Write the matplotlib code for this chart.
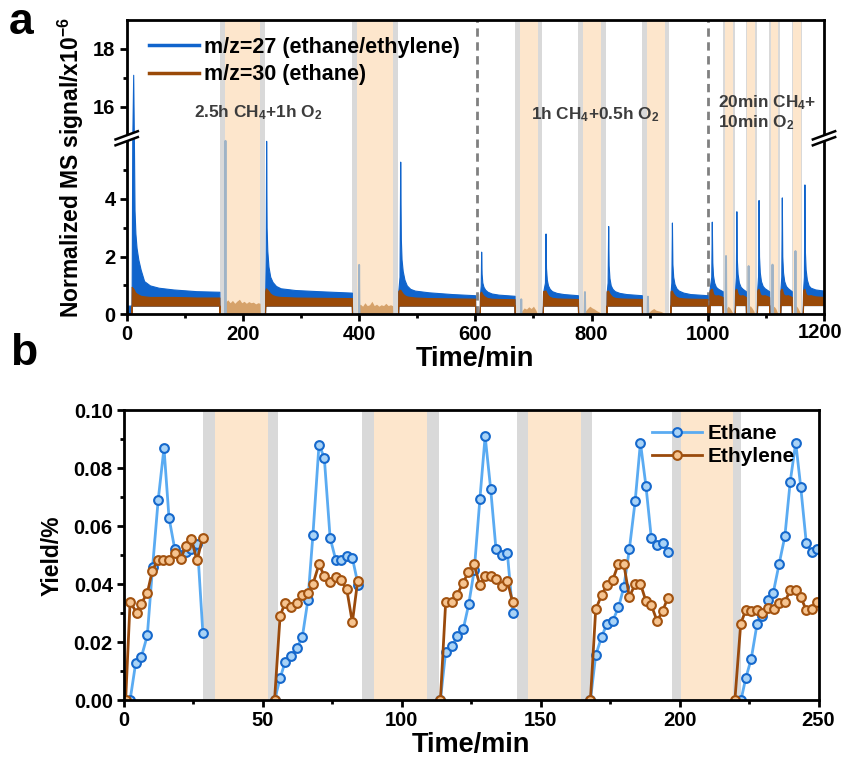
import numpy as np
import matplotlib
matplotlib.use("Agg")
import matplotlib.pyplot as plt
import matplotlib.transforms as mtrans
from matplotlib.lines import Line2D

plt.rcParams['font.family'] = ['Liberation Sans', 'DejaVu Sans']
plt.rcParams['font.weight'] = 'bold'
plt.rcParams['mathtext.fontset'] = 'custom'
plt.rcParams['mathtext.rm'] = 'Liberation Sans:bold'
plt.rcParams['mathtext.it'] = 'Liberation Sans:bold'
plt.rcParams['mathtext.bf'] = 'Liberation Sans:bold'

# ---------------- Panel a data ----------------
# CH4 segments: time points, m/z=27 upper envelope, m/z=30 upper envelope, common lower envelope
seg_t = [
    [0, 8.3, 8.6, 9.6, 11.2, 12.4, 13.5, 15, 17, 20, 24, 30, 40, 55, 80, 120, 159.5, 159.8],
    [238, 238.4, 239.2, 240, 240.8, 242, 244, 247, 251, 257, 265, 290, 330, 387.5, 387.8],
    [467, 467.4, 469.5, 470.7, 471.8, 473, 475, 478, 482, 488, 496, 520, 560, 599.5, 599.8],
    [607.5, 608, 609.3, 610, 610.8, 612, 614, 617, 621, 628, 640, 667.5, 667.8],
    [716, 716.5, 719.8, 720.8, 721.6, 723, 725, 728, 732, 740, 752, 776.5, 776.8],
    [825.5, 826, 827.6, 828.6, 829.4, 830.8, 833, 836, 840, 848, 860, 886.5, 886.8],
    [935.5, 936, 937.3, 938.3, 939.1, 940.5, 942.7, 946, 950, 958, 970, 999.5, 999.8],
    [1002.5, 1003, 1006, 1006.9, 1007.8, 1009, 1011, 1014, 1018, 1025.5, 1025.8],
    [1046.5, 1047, 1048.3, 1049.2, 1050, 1051.3, 1053.5, 1056.5, 1060, 1065.5, 1065.8],
    [1084.5, 1085, 1086.5, 1087.4, 1088.2, 1089.5, 1091.5, 1094.5, 1098, 1105.5, 1105.8],
    [1124.5, 1125, 1126.5, 1127.4, 1128.2, 1129.5, 1131.5, 1134.5, 1138, 1144.5, 1144.8],
    [1163.5, 1164, 1165.4, 1166.3, 1167.1, 1168.4, 1170.5, 1173.5, 1177, 1185, 1199.5, 1200],
]
seg_27 = [
    [0.3, 0.3, 0.9, 6.5, 17.1, 7.0, 3.6, 2.8, 2.3, 1.9, 1.55, 1.15, 1.0, 0.92, 0.86, 0.8, 0.78, 0],
    [0, 0.8, 2.0, 6.5, 3.0, 2.2, 1.65, 1.3, 1.12, 0.98, 0.9, 0.84, 0.8, 0.75, 0],
    [0, 0.8, 1.3, 5.29, 2.6, 1.9, 1.5, 1.2, 1.0, 0.88, 0.82, 0.76, 0.7, 0.66, 0],
    [0, 0.7, 1.0, 2.17, 1.4, 1.1, 0.95, 0.85, 0.78, 0.72, 0.68, 0.64, 0],
    [0, 0.75, 1.1, 2.8, 1.6, 1.2, 1.0, 0.88, 0.8, 0.74, 0.7, 0.66, 0],
    [0, 0.75, 1.1, 3.06, 1.7, 1.25, 1.0, 0.88, 0.8, 0.74, 0.7, 0.66, 0],
    [0, 0.75, 1.1, 3.18, 1.75, 1.3, 1.05, 0.9, 0.82, 0.75, 0.7, 0.66, 0],
    [0, 0.85, 1.3, 3.21, 1.8, 1.35, 1.1, 0.95, 0.88, 0.8, 0],
    [0, 0.85, 1.3, 3.57, 1.9, 1.4, 1.1, 0.95, 0.88, 0.8, 0],
    [0, 0.85, 1.3, 3.96, 2.0, 1.45, 1.15, 0.98, 0.9, 0.8, 0],
    [0, 0.85, 1.3, 4.05, 2.0, 1.45, 1.15, 0.98, 0.9, 0.8, 0],
    [0, 0.85, 1.3, 4.5, 2.2, 1.55, 1.2, 1.0, 0.92, 0.86, 0.82, 0.8],
]
seg_30 = [
    [0, 0, 0.95, 0.92, 0.9, 0.85, 0.8, 0.75, 0.72, 0.68, 0.64, 0.62, 0.6, 0.6, 0.6, 0.58, 0.58, 0],
    [0, 0.8, 0.88, 0.9, 0.88, 0.85, 0.8, 0.72, 0.66, 0.62, 0.6, 0.58, 0.57, 0.56, 0],
    [0, 0.8, 0.85, 0.85, 0.82, 0.78, 0.72, 0.66, 0.62, 0.6, 0.58, 0.56, 0.55, 0.54, 0],
    [0, 0.72, 0.78, 0.78, 0.74, 0.7, 0.65, 0.6, 0.56, 0.54, 0.53, 0.52, 0],
    [0, 0.8, 0.82, 0.82, 0.78, 0.72, 0.66, 0.6, 0.57, 0.55, 0.54, 0.53, 0],
    [0, 0.8, 0.82, 0.82, 0.78, 0.72, 0.66, 0.6, 0.57, 0.55, 0.54, 0.53, 0],
    [0, 0.8, 0.82, 0.82, 0.78, 0.72, 0.66, 0.6, 0.57, 0.55, 0.54, 0.53, 0],
    [0, 0.82, 0.88, 0.88, 0.82, 0.72, 0.66, 0.65, 0.66, 0.6, 0],
    [0, 0.82, 0.88, 0.88, 0.82, 0.72, 0.66, 0.65, 0.66, 0.6, 0],
    [0, 0.82, 0.88, 0.88, 0.82, 0.72, 0.66, 0.65, 0.66, 0.6, 0],
    [0, 0.82, 0.88, 0.88, 0.82, 0.72, 0.66, 0.65, 0.66, 0.6, 0],
    [0, 0.82, 0.88, 0.88, 0.82, 0.72, 0.66, 0.65, 0.66, 0.62, 0.6, 0.6],
]
seg_lo = [
    [0, 0, 0.3, 0.3, 0.3, 0.3, 0.3, 0.3, 0.3, 0.3, 0.3, 0.3, 0.3, 0.3, 0.3, 0.3, 0.3, 0],
    [0] + [0.3] * 13 + [0],
    [0] + [0.3] * 13 + [0],
    [0] + [0.3] * 11 + [0],
    [0] + [0.3] * 11 + [0],
    [0] + [0.3] * 11 + [0],
    [0] + [0.3] * 11 + [0],
    [0] + [0.32] * 9 + [0],
    [0] + [0.32] * 9 + [0],
    [0] + [0.32] * 9 + [0],
    [0] + [0.32] * 9 + [0],
    [0] + [0.32] * 11,
]

# Purge (gray) periods and O2 periods (min)
gray_a = [(160, 169), (230, 238), (388, 397), (458, 467),
          (668, 677), (707, 715), (777, 786), (817, 825), (887, 896), (926, 934),
          (1026, 1029), (1044, 1047), (1066, 1068), (1081, 1084),
          (1106, 1109), (1121, 1124), (1145, 1147), (1160, 1163)]
o2_a = [(169, 230), (397, 458), (677, 707), (786, 817), (896, 926),
        (1029, 1044), (1068, 1081), (1109, 1121), (1147, 1160)]
switch_times = [603, 1000]

# Signal spikes during purge periods
gspike_t = [170, 400, 679, 788.6, 897, 1031.4, 1070.3, 1111.4, 1150.9]
gspike_h = [6.5, 1.71, 0.52, 0.77, 0.61, 2.02, 1.67, 1.72, 2.19]

# m/z=30 signal during O2 periods
o2sig_t = [
    [169.5, 170, 174, 178, 182, 186, 190, 194, 198, 202, 206, 210, 214, 218, 222, 226, 229.5, 230],
    [397.5, 398, 402, 406, 410, 414, 418, 422, 426, 430, 434, 438, 442, 446, 450, 454, 457.5, 458],
    [677, 680, 684, 688, 692, 696, 700, 704, 707],
    [786, 789, 793, 797, 801, 805, 809, 813, 817],
    [896, 899, 903, 907, 911, 915, 919, 923, 926],
    [1029, 1032, 1035, 1038, 1041, 1044],
    [1068, 1070, 1073, 1076, 1079, 1081],
    [1109, 1111, 1114, 1117, 1119, 1121],
    [1147, 1149, 1152, 1155, 1158, 1160],
]
o2sig_v = [
    [0, 0.42, 0.5, 0.4, 0.48, 0.38, 0.46, 0.52, 0.4, 0.45, 0.38, 0.44, 0.4, 0.42, 0.36, 0.4, 0.38, 0],
    [0, 0.3, 0.35, 0.28, 0.4, 0.3, 0.33, 0.45, 0.3, 0.35, 0.28, 0.33, 0.3, 0.38, 0.3, 0.33, 0.3, 0],
    [0, 0.12, 0.22, 0.18, 0.26, 0.2, 0.28, 0.15, 0],
    [0, 0.1, 0.2, 0.28, 0.22, 0.18, 0.12, 0.08, 0],
    [0, 0.08, 0.15, 0.2, 0.14, 0.12, 0.1, 0.06, 0],
    [0, 0.2, 0.28, 0.22, 0.12, 0],
    [0, 0.2, 0.3, 0.22, 0.12, 0],
    [0, 0.2, 0.28, 0.2, 0.1, 0],
    [0, 0.2, 0.3, 0.22, 0.1, 0],
]
xticks_a = [0, 200, 400, 600, 800, 1000, 1200]

# ---------------- Panel b data ----------------
eth_t = [2.2, 4.2, 6.2, 8.4, 10.3, 12.3, 14.4, 16.2, 18.3, 20.3, 22.3, 24.3, 26.4, 28.4, None,
         54.2, 56.2, 58.0, 60.1, 62.2, 64.2, 66.2, 68.0, 70.2, 72.1, 74.2, 76.2, 78.1, 80.2, 82.2, 84.3, None,
         113.9, 115.8, 118.1, 120.0, 122.1, 124.1, 126.1, 128.1, 130.0, 132.0, 133.9, 136.0, 138.0, 139.9, None,
         167.9, 169.8, 171.9, 173.9, 175.9, 178.0, 179.9, 181.9, 184.0, 185.9, 187.9, 189.8, 191.9, 193.9, 195.8, None,
         222.1, 223.8, 225.8, 227.9, 229.8, 231.9, 233.7, 235.8, 237.9, 239.8, 241.8, 243.6, 245.6, 247.6, 249.4]
eth_y = [0, 0.0127, 0.0147, 0.0223, 0.046, 0.069, 0.087, 0.063, 0.052, 0.050, 0.051, 0.052, 0.054, 0.023, None,
         0, 0.0075, 0.0132, 0.0152, 0.018, 0.0218, 0.0345, 0.0569, 0.0882, 0.0837, 0.056, 0.0485, 0.0485, 0.0497, 0.0491, 0.0397, None,
         0, 0.0167, 0.0187, 0.0221, 0.0244, 0.0331, 0.045, 0.0693, 0.0911, 0.0728, 0.0521, 0.050, 0.0508, 0.0302, None,
         0, 0.0154, 0.0218, 0.0264, 0.0273, 0.032, 0.0389, 0.052, 0.0687, 0.0889, 0.0738, 0.0561, 0.0534, 0.0544, 0.0511, None,
         0, 0.0075, 0.0143, 0.0264, 0.029, 0.0345, 0.037, 0.0469, 0.0566, 0.0753, 0.0889, 0.0736, 0.0542, 0.0511, 0.052]
ety_t = [0.6, 2.2, 4.6, 6.2, 8.4, 10.2, 12.1, 14.2, 16.3, 18.4, 20.4, 22.3, 24.2, 26.3, 28.3, None,
         54.2, 56.2, 58.0, 60.1, 62.2, 64.2, 66.2, 68.0, 70.2, 72.1, 74.2, 76.2, 78.1, 80.2, 82.2, 84.1, None,
         113.9, 115.8, 117.9, 119.9, 122.1, 123.9, 126.0, 128.1, 130.0, 132.0, 133.9, 136.0, 138.0, 139.9, None,
         167.9, 169.8, 171.9, 173.9, 175.9, 178.0, 179.9, 181.9, 184.0, 185.9, 187.9, 189.8, 191.9, 193.9, 195.8, None,
         219.9, 222.0, 223.8, 225.8, 227.9, 229.8, 231.9, 233.8, 235.8, 237.9, 239.8, 241.8, 243.6, 245.6, 247.6, 249.4]
ety_y = [0, 0.0339, 0.0301, 0.0333, 0.037, 0.0446, 0.0483, 0.0483, 0.0483, 0.0509, 0.0487, 0.0532, 0.0557, 0.0482, 0.0561, None,
         0, 0.0291, 0.0336, 0.032, 0.0336, 0.0362, 0.037, 0.040, 0.0469, 0.0428, 0.0406, 0.0425, 0.0414, 0.0382, 0.0268, 0.041, None,
         0, 0.0339, 0.0339, 0.0364, 0.0405, 0.0441, 0.0469, 0.0397, 0.0428, 0.0428, 0.0417, 0.0395, 0.0411, 0.0339, None,
         0, 0.0313, 0.0362, 0.0399, 0.0414, 0.0471, 0.0471, 0.0356, 0.040, 0.0402, 0.0341, 0.0328, 0.0273, 0.0308, 0.0354, None,
         0, 0.0264, 0.031, 0.0307, 0.031, 0.0301, 0.0318, 0.0313, 0.0336, 0.0339, 0.0379, 0.0379, 0.0356, 0.031, 0.0316, 0.0339]

gray_b = [(28.5, 32.7), (51.7, 55.5), (85.5, 90.0), (109.0, 113.4),
          (141.6, 145.4), (164.6, 168.3), (197.1, 200.4), (219.3, 222.2)]
o2_b = [(32.7, 51.7), (90.0, 109.0), (145.4, 164.6), (200.4, 219.3)]

# ---------------- Styles ----------------
C_BLUE = '#1064cc'
C_BROWN = '#9a4a08'
C_TAN = '#d6a26a'
C_GRAY = '#d9d9d9'
C_PEACH = '#fde6cc'
C_GSPIKE = '#9fb3c6'
C_TEXT = '#3c3c3c'
TICK_FS = 14.5

fig = plt.figure(figsize=(8.44, 7.68), dpi=100)

# ---------- Panel a ----------
axa = fig.add_axes([0.1501, 0.5908, 0.8262, 0.3832])
A_LO, A_HI, GAP = 6.0, 15.0, 0.2

def fwd(y):
    y = np.asarray(y, dtype=float)
    return np.where(y <= A_LO, y,
                    np.where(y >= A_HI, y - (A_HI - A_LO) + GAP,
                             A_LO + (y - A_LO) * GAP / (A_HI - A_LO)))

def inv(v):
    v = np.asarray(v, dtype=float)
    return np.where(v <= A_LO, v,
                    np.where(v >= A_LO + GAP, v + (A_HI - A_LO) - GAP,
                             A_LO + (v - A_LO) * (A_HI - A_LO) / GAP))

axa.set_yscale('function', functions=(fwd, inv))
axa.set_xlim(0, 1200)
axa.set_ylim(0, 19)

for a, b in gray_a:
    axa.axvspan(a, b, color=C_GRAY, lw=0, zorder=0)
for a, b in o2_a:
    axa.axvspan(a, b, color=C_PEACH, lw=0, zorder=0)
for s in switch_times:
    axa.axvline(s, color='#808080', lw=2, ls=(0, (3, 2)), zorder=1)

for t, v in zip(o2sig_t, o2sig_v):
    axa.fill_between(t, 0, v, color=C_TAN, lw=0, zorder=2)

for ts, h in zip(gspike_t, gspike_h):
    axa.plot([ts - 0.6, ts, ts + 0.6], [0, h, 0], color=C_GSPIKE, lw=1.4, zorder=2)

for t, b27, o30, lo in zip(seg_t, seg_27, seg_30, seg_lo):
    axa.fill_between(t, lo, b27, color=C_BLUE, lw=0.8, edgecolor=C_BLUE, zorder=3)
    axa.fill_between(t, lo, o30, color=C_BROWN, lw=0.8, edgecolor=C_BROWN, zorder=4)

axa.set_yticks([0, 2, 4, 16, 18])
axa.set_yticks([1, 3, 5, 17], minor=True)
axa.set_xticks(xticks_a)
axa.set_xticklabels([str(v) for v in xticks_a[:-1]] + [''])
axa.set_xticks(np.arange(100, 1200, 200), minor=True)
# last tick label, nudged left so it stays inside the figure
lab_tr = mtrans.blended_transform_factory(axa.transData, axa.transAxes) + \
    mtrans.ScaledTranslation(-4 / 100, 0, fig.dpi_scale_trans)
axa.text(xticks_a[-1], -0.028, str(xticks_a[-1]), transform=lab_tr, ha='center', va='top',
         fontsize=TICK_FS, fontweight='bold')
axa.set_xlabel('Time/min', fontsize=19.5, fontweight='bold', labelpad=1)
axa.set_ylabel('Normalized MS signal/x10$^{-6}$', fontsize=16.5, fontweight='bold', labelpad=5)

leg_a = axa.legend(handles=[Line2D([], [], color=C_BLUE, lw=2.5),
                            Line2D([], [], color=C_BROWN, lw=2.5)],
                   labels=['m/z=27 (ethane/ethylene)', 'm/z=30 (ethane)'],
                   loc='upper left', bbox_to_anchor=(0.012, 0.99), frameon=False,
                   fontsize=15.5, handlelength=2.3, handletextpad=0.25, labelspacing=0.3,
                   borderaxespad=0.25)
for txt in leg_a.get_texts():
    txt.set_fontweight('bold')

axa.text(227, 15.79, '2.5h CH$_4$+1h O$_2$', ha='center', va='center', fontsize=12.4,
         fontweight='bold', color=C_TEXT, zorder=6)
axa.text(806, 15.72, '1h CH$_4$+0.5h O$_2$', ha='center', va='center', fontsize=12.4,
         fontweight='bold', color=C_TEXT, zorder=6)
axa.text(1017, 15.78, '20min CH$_4$+\n10min O$_2$', ha='left', va='center', fontsize=12.4,
         fontweight='bold', color=C_TEXT, zorder=6, linespacing=1.1)

# break marks
yb = (A_LO + GAP / 2) / (A_LO + GAP + 19 - A_HI)
for xb in (0.0, 1.0):
    dx, dy, off = 0.016, 0.014, 0.010
    poly = plt.Polygon([[xb - dx, yb - dy - off], [xb + dx, yb + dy - off],
                        [xb + dx, yb + dy + off], [xb - dx, yb - dy + off]],
                       closed=True, transform=axa.transAxes, facecolor='white',
                       edgecolor='none', clip_on=False, zorder=10)
    axa.add_patch(poly)
    for o in (-off, off):
        axa.plot([xb - dx, xb + dx], [yb - dy + o, yb + dy + o], transform=axa.transAxes,
                 color='black', lw=1.8, clip_on=False, zorder=11)

# ---------- Panel b ----------
axb = fig.add_axes([0.1469, 0.0885, 0.8229, 0.377])
axb.set_xlim(0, 250)
axb.set_ylim(0, 0.10)
for a, b in gray_b:
    axb.axvspan(a, b, color=C_GRAY, lw=0, zorder=0)
for a, b in o2_b:
    axb.axvspan(a, b, color=C_PEACH, lw=0, zorder=0)

eth_t_a = np.array([np.nan if v is None else v for v in eth_t])
eth_y_a = np.array([np.nan if v is None else v for v in eth_y])
ety_t_a = np.array([np.nan if v is None else v for v in ety_t])
ety_y_a = np.array([np.nan if v is None else v for v in ety_y])

axb.plot(eth_t_a, eth_y_a, color='#5aabf2', lw=2.0, marker='o', ms=6.3,
         mfc='#a9d3f6', mec='#1568cc', mew=1.5, label='Ethane', zorder=3)
axb.plot(ety_t_a, ety_y_a, color='#9a4a0c', lw=2.0, marker='o', ms=6.3,
         mfc='#f6c490', mec='#a2520f', mew=1.5, label='Ethylene', zorder=4)

axb.set_xticks(np.arange(0, 251, 50))
axb.set_xticks(np.arange(25, 250, 50), minor=True)
axb.set_yticks(np.arange(0, 0.1001, 0.02))
axb.set_yticks(np.arange(0.01, 0.1, 0.02), minor=True)
axb.yaxis.set_major_formatter(matplotlib.ticker.FormatStrFormatter('%.2f'))
axb.set_xlabel('Time/min', fontsize=19.5, fontweight='bold', labelpad=1)
axb.set_ylabel('Yield/%', fontsize=16.5, fontweight='bold', labelpad=7)
leg_b = axb.legend(loc='upper right', bbox_to_anchor=(0.985, 1.0), frameon=False,
                   fontsize=15, handlelength=2.4, handletextpad=0.25, labelspacing=0.2,
                   borderaxespad=0.25)
for txt in leg_b.get_texts():
    txt.set_fontweight('bold')

for ax in (axa, axb):
    for sp in ax.spines.values():
        sp.set_linewidth(2.0)
        sp.set_zorder(9)
    ax.tick_params(which='major', direction='out', length=5, width=2, labelsize=TICK_FS, pad=3)
    ax.tick_params(which='minor', direction='out', length=3, width=2)
    for lab in ax.get_xticklabels() + ax.get_yticklabels():
        lab.set_fontweight('bold')

fig.text(0.010, 0.997, 'a', fontsize=32, fontweight='bold', va='top', ha='left')
fig.text(0.012, 0.567, 'b', fontsize=32, fontweight='bold', va='top', ha='left')

fig.savefig('out.png', dpi=100)
